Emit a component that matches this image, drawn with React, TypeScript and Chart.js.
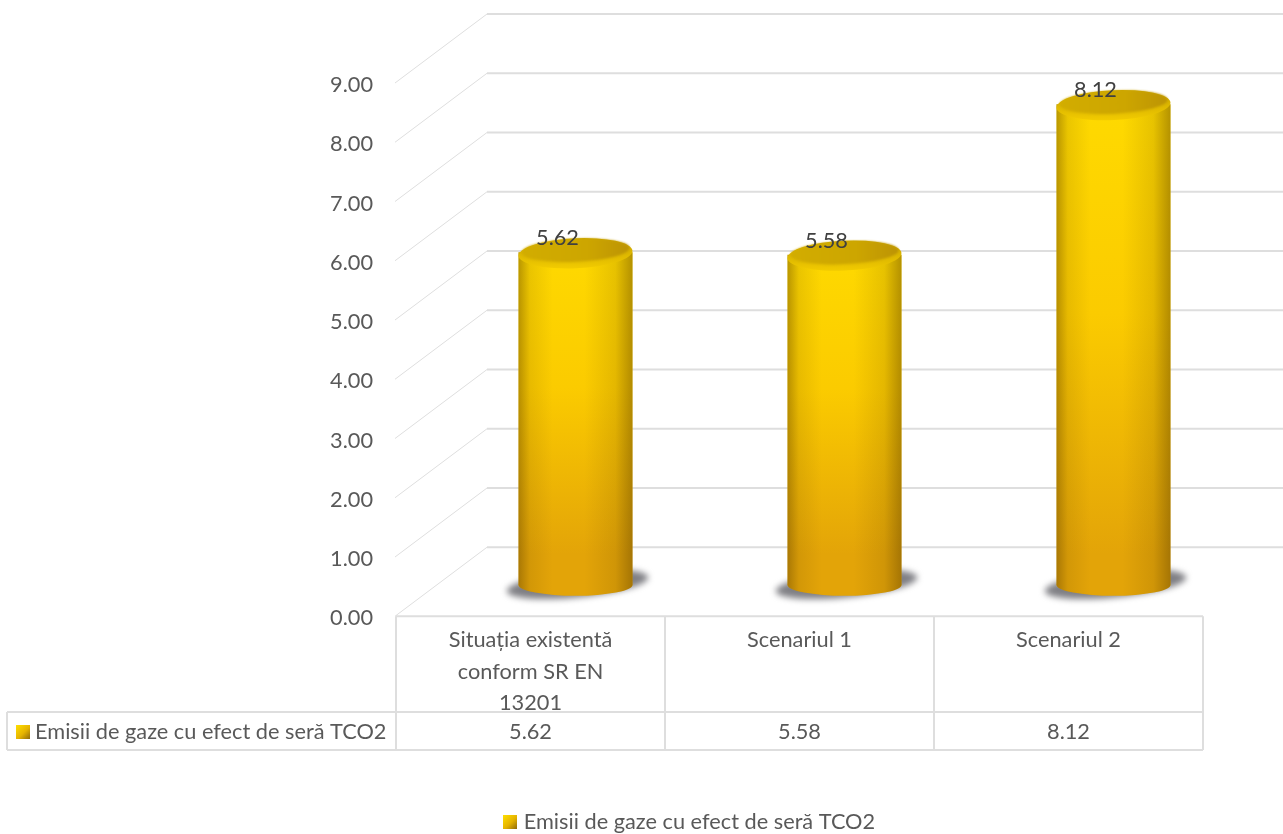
import React, { useEffect, useRef } from "react";
import { Chart, registerables } from "chart.js";

Chart.register(...registerables);

const categories = [["Situația existentă", "conform SR EN", "13201"], ["Scenariul 1"], ["Scenariul 2"]];
const emissions = [5.62, 5.58, 8.12];
const seriesName = "Emisii de gaze cu efect de seră TCO2";

const FONT = "Lato, Carlito, sans-serif";
const FONT_SIZE = 21.75;
const TEXT = "#595959";
const GRID = "#dedede";
const DEPTH_X = 92;
const DEPTH_Y = 69;
const BAR_SHIFT_X = 45;
const BAR_SHIFT_Y = -31;
const TILT = -0.045;
const FOOT_RY = 11;

function swatch(): HTMLCanvasElement {
  const c = document.createElement("canvas");
  c.width = 14;
  c.height = 14;
  const g = c.getContext("2d")!;
  const fill = g.createLinearGradient(0, 0, 14, 14);
  fill.addColorStop(0, "#ffe000");
  fill.addColorStop(0.55, "#e6b400");
  fill.addColorStop(1, "#8f6a0a");
  g.fillStyle = fill;
  g.fillRect(0, 0, 14, 14);
  return c;
}

// Grey receding wall lines and floor, drawn from the value scale
function drawWalls(chart: any) {
  const { ctx, chartArea, scales } = chart;
  const w = chart.width;
  ctx.save();
  ctx.strokeStyle = GRID;
  scales.y.ticks.forEach((t: any) => {
    const y = scales.y.getPixelForValue(t.value);
    ctx.lineWidth = 1;
    ctx.beginPath();
    ctx.moveTo(chartArea.left - 1, y);
    ctx.lineTo(chartArea.left - 1 + DEPTH_X, y - DEPTH_Y);
    ctx.stroke();
    ctx.lineWidth = 2;
    ctx.beginPath();
    ctx.moveTo(chartArea.left - 1 + DEPTH_X, y - DEPTH_Y);
    ctx.lineTo(w, y - DEPTH_Y);
    ctx.stroke();
  });
  ctx.restore();
}

function drawShadow(ctx: CanvasRenderingContext2D, cx: number, cy: number, rx: number) {
  ctx.save();
  ctx.filter = "blur(3px)";
  ctx.fillStyle = "rgba(105,105,110,0.85)";
  ctx.beginPath();
  ctx.ellipse(cx + 2, cy - 1, rx + 14, 13, -0.1, 0, Math.PI * 2);
  ctx.fill();
  ctx.restore();
}

// Gives the flat bar its cylinder: round foot, side shading, lid and value label
function drawCylinder(ctx: CanvasRenderingContext2D, el: any, value: number) {
  const rx = el.width / 2;
  const left = el.x - rx;
  const right = el.x + rx;
  const top = el.y;
  const base = el.base;

  ctx.fillStyle = "#e3a408";
  ctx.beginPath();
  ctx.ellipse(el.x, base - 0.5, rx, FOOT_RY, 0, 0, Math.PI);
  ctx.fill();

  const shade = ctx.createLinearGradient(left, 0, right, 0);
  shade.addColorStop(0, "rgba(90,60,0,0.42)");
  shade.addColorStop(0.1, "rgba(90,60,0,0.12)");
  shade.addColorStop(0.3, "rgba(90,60,0,0)");
  shade.addColorStop(0.58, "rgba(90,60,0,0)");
  shade.addColorStop(0.85, "rgba(90,60,0,0.14)");
  shade.addColorStop(1, "rgba(90,60,0,0.45)");
  ctx.fillStyle = shade;
  ctx.beginPath();
  ctx.moveTo(left, top);
  ctx.lineTo(left, base - 0.5);
  ctx.ellipse(el.x, base - 0.5, rx, FOOT_RY, 0, Math.PI, 0, true);
  ctx.lineTo(right, top);
  ctx.closePath();
  ctx.fill();

  // rim, then the darker inner lid
  const rim = ctx.createLinearGradient(0, top - 15, 0, top + 16);
  rim.addColorStop(0, "#c9a400");
  rim.addColorStop(0.7, "#e3bd00");
  rim.addColorStop(1, "#f2cb00");
  ctx.fillStyle = rim;
  ctx.beginPath();
  ctx.ellipse(el.x, top + 1, rx, 15, TILT, 0, Math.PI * 2);
  ctx.fill();
  const lid = ctx.createLinearGradient(left, 0, right, 0);
  lid.addColorStop(0, "#d2ad00");
  lid.addColorStop(0.6, "#cda600");
  lid.addColorStop(1, "#bb9205");
  ctx.fillStyle = lid;
  ctx.filter = "blur(1px)";
  ctx.beginPath();
  ctx.ellipse(el.x, top - 2, rx - 3, 11.5, TILT, 0, Math.PI * 2);
  ctx.fill();
  ctx.filter = "none";

  ctx.fillStyle = "#404040";
  ctx.font = `${FONT_SIZE}px ${FONT}`;
  ctx.textAlign = "center";
  ctx.textBaseline = "middle";
  ctx.fillText(value.toFixed(2), el.x - 18, top - 14);
}

const cylinderPlugin = {
  id: "cylinders",
  beforeDatasetsDraw(chart: any) {
    const { ctx } = chart;
    drawWalls(chart);
    ctx.save();
    ctx.translate(BAR_SHIFT_X, BAR_SHIFT_Y);
    chart.getDatasetMeta(0).data.forEach((el: any) => drawShadow(ctx, el.x, el.base, el.width / 2));
  },
  afterDatasetsDraw(chart: any) {
    const { ctx } = chart;
    chart.getDatasetMeta(0).data.forEach((el: any, i: number) => drawCylinder(ctx, el, emissions[i]));
    ctx.restore();
  },
};

// Data table under the plot: category cells, the series row and its key
const tablePlugin = {
  id: "dataTable",
  afterDraw(chart: any) {
    const { ctx, chartArea, scales } = chart;
    const top = chartArea.bottom;
    const rowTop = 712;
    const rowBottom = 750;
    const rowLeft = 7;
    const { left, right } = chartArea;
    const cell = (right - left) / emissions.length;
    ctx.save();
    ctx.strokeStyle = GRID;
    ctx.lineWidth = 2;
    ctx.beginPath();
    ctx.moveTo(left, top);
    ctx.lineTo(right, top);
    ctx.moveTo(rowLeft, rowTop);
    ctx.lineTo(right, rowTop);
    ctx.moveTo(rowLeft, rowBottom);
    ctx.lineTo(right, rowBottom);
    ctx.moveTo(rowLeft, rowTop);
    ctx.lineTo(rowLeft, rowBottom);
    for (let i = 0; i <= emissions.length; i++) {
      ctx.moveTo(left + i * cell, top);
      ctx.lineTo(left + i * cell, rowBottom);
    }
    ctx.stroke();

    ctx.fillStyle = TEXT;
    ctx.font = `${FONT_SIZE}px ${FONT}`;
    ctx.textBaseline = "middle";
    ctx.textAlign = "center";
    emissions.forEach((v, i) => ctx.fillText(v.toFixed(2), scales.x.getPixelForTick(i), 731.5));
    ctx.textAlign = "left";
    ctx.fillText(seriesName, 35, 731.5);
    ctx.drawImage(swatch(), 16, 725);
    ctx.restore();
  },
};

export default function App() {
  const ref = useRef<HTMLCanvasElement>(null);

  useEffect(() => {
    const chart = new Chart(ref.current!, {
      type: "bar",
      data: {
        labels: categories as any,
        datasets: [
          {
            label: seriesName,
            data: emissions,
            clip: false as any,
            categoryPercentage: 1,
            barPercentage: 0.424,
            borderWidth: 0,
            backgroundColor: (c: any) => {
              const area = c.chart.chartArea;
              if (!area || c.parsed === undefined) return "#f0c000";
              const { y } = c.chart.scales;
              const g = c.chart.ctx.createLinearGradient(0, y.getPixelForValue(c.parsed.y) + BAR_SHIFT_Y, 0, y.getPixelForValue(0) + BAR_SHIFT_Y);
              g.addColorStop(0, "#ffdc00");
              g.addColorStop(0.5, "#fbcb00");
              g.addColorStop(1, "#e3a408");
              return g;
            },
          },
        ],
      },
      options: {
        responsive: false,
        animation: false,
        layout: { padding: { top: 83, left: 99, right: 0, bottom: -9 } },
        scales: {
          x: {
            grid: { display: false },
            border: { display: false },
            afterFit: (s: any) => { s.height = 192; },
            ticks: {
              autoSkip: false,
              maxRotation: 0,
              padding: 0,
              color: TEXT,
              font: { family: FONT, size: FONT_SIZE, lineHeight: 1.45 },
            },
          },
          y: {
            min: 0,
            max: 9,
            grid: { display: false },
            border: { display: false },
            afterFit: (s: any) => { s.width = 297; },
            ticks: {
              stepSize: 1,
              padding: 15,
              labelOffset: 2,
              color: TEXT,
              font: { family: FONT, size: FONT_SIZE },
              callback: (v: any) => Number(v).toFixed(2),
            },
          },
          edge: {
            position: "right",
            grid: { display: false },
            border: { display: false },
            ticks: { display: false },
            afterFit: (s: any) => { s.width = 80; },
          },
        },
        plugins: {
          tooltip: { enabled: false },
          legend: {
            position: "bottom",
            labels: {
              usePointStyle: true,
              pointStyleWidth: 6,
              padding: 3,
              color: TEXT,
              font: { family: FONT, size: FONT_SIZE },
              generateLabels: () => [
                { text: seriesName, pointStyle: swatch(), fontColor: TEXT, lineWidth: 0, strokeStyle: "transparent", datasetIndex: 0 } as any,
              ],
            },
          },
        },
      },
      plugins: [cylinderPlugin, tablePlugin],
    } as any);
    return () => chart.destroy();
  }, []);

  return (
    <div style={{ position: "absolute", left: 0, top: 0, width: 1283, height: 834, background: "#fff" }}>
      <canvas ref={ref} width={1283} height={834} style={{ display: "block" }} />
    </div>
  );
}
